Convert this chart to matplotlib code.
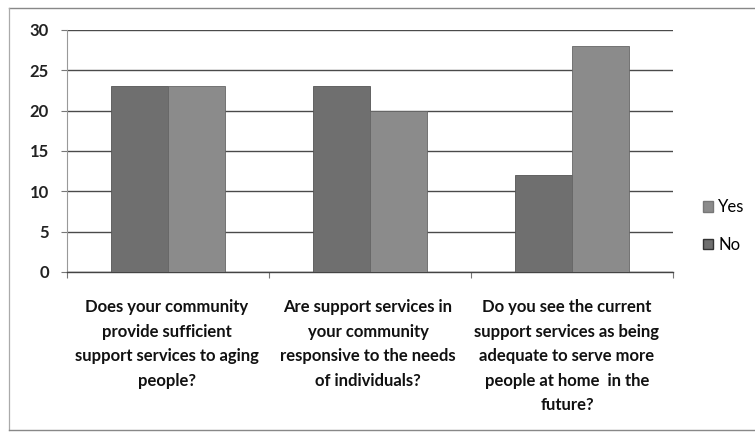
import matplotlib
matplotlib.use("Agg")
import matplotlib.pyplot as plt
from matplotlib.lines import Line2D
from matplotlib.patches import Patch
from matplotlib.transforms import blended_transform_factory, offset_copy
import numpy as np

# Survey answers per question
categories = [
    "Does your community\nprovide sufficient\nsupport services to aging\npeople?",
    "Are support services in\nyour community\nresponsive to the needs\nof individuals?",
    "Do you see the current\nsupport services as being\nadequate to serve more\npeople at home  in the\nfuture?",
]
no_values = [23, 23, 12]
yes_values = [23, 20, 28]
y_ticks = [0, 5, 10, 15, 20, 25, 30]

plt.rcParams["font.family"] = ["Lato", "DejaVu Sans"]

W, H = 755, 436
fig = plt.figure(figsize=(W / 100, H / 100), dpi=100)
fig.patch.set_facecolor("white")

ax = fig.add_axes([67 / W, (H - 272) / H, (673 - 67) / W, (272 - 30) / H])

x = np.arange(len(categories))
bw = 0.28
c_no = "#6f6f6f"
c_yes = "#8b8b8b"
ax.bar(x - bw / 2, no_values, bw, color=c_no, edgecolor="#555555", linewidth=0.6, zorder=3)
ax.bar(x + bw / 2, yes_values, bw, color=c_yes, edgecolor="#666666", linewidth=0.6, zorder=3)

ax.set_xlim(-0.5, len(categories) - 0.5)
ax.set_ylim(0, 30)
ax.set_yticks(y_ticks)
ax.set_yticklabels([str(v) for v in y_ticks], fontsize=12, fontweight="bold", color="#222222")
ax.tick_params(axis="y", length=4, width=0.8, color="#777777", pad=9)
ax.yaxis.grid(True, color="#4a4a4a", linewidth=1.0, zorder=0)
ax.set_axisbelow(True)

# category boundary ticks along the baseline
ax.set_xticks(np.arange(len(categories) + 1) - 0.5)
ax.set_xticklabels([])
ax.tick_params(axis="x", length=4, width=0.8, color="#777777")

for side in ("top", "right"):
    ax.spines[side].set_visible(False)
ax.spines["left"].set_color("#999999")
ax.spines["left"].set_linewidth(0.8)
ax.spines["bottom"].set_color("#444444")
ax.spines["bottom"].set_linewidth(1.0)

# wrapped question labels below the axis
label_shift_px = [-1, -2, -5]
trans = blended_transform_factory(ax.transData, ax.transAxes)
for xi, lab, dx in zip(x, categories, label_shift_px):
    t = offset_copy(trans, fig=fig, x=dx, y=-27, units="dots")
    ax.text(xi, 0, lab, transform=t, ha="center", va="top", fontsize=12,
            fontweight="bold", color="#111111", linespacing=1.66)

handles = [Patch(facecolor=c_yes, edgecolor="#777777"), Patch(facecolor=c_no, edgecolor="#333333")]
fig.legend(handles, ["Yes", "No"], loc="center left", bbox_to_anchor=(703 / W, 1 - 226 / H),
           frameon=False, fontsize=12, handlelength=0.6, handleheight=0.6,
           handletextpad=0.3, labelspacing=1.3, borderpad=0, borderaxespad=0)

# chart area border
fig.add_artist(Line2D([9 / W, 1], [1 - 8 / H, 1 - 8 / H], color="#888888", linewidth=1.0))
fig.add_artist(Line2D([9 / W, 9 / W], [1 - 8 / H, 1 - 430 / H], color="#aaaaaa", linewidth=0.9))
fig.add_artist(Line2D([9 / W, 1], [1 - 430 / H, 1 - 430 / H], color="#888888", linewidth=1.0))

fig.savefig("out.png", dpi=100, facecolor="white")
